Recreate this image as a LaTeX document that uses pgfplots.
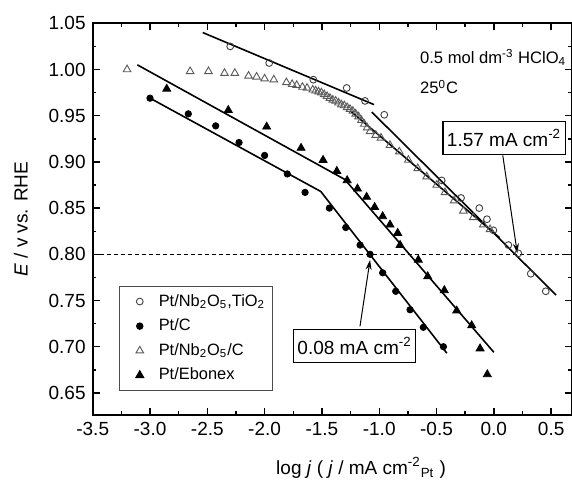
\documentclass[border=0pt]{standalone}
\usepackage{fontspec}
\setmainfont{Liberation Sans}
\usepackage{pgfplots}
\pgfplotsset{compat=1.18}
\usetikzlibrary{arrows.meta}

\begin{document}
\begin{tikzpicture}[font=\fontsize{9.5}{11}\selectfont]
\begin{axis}[
    scale only axis,
    width=239.65pt, height=195.85pt,
    xmin=-3.5, xmax=0.682,
    ymin=0.6261, ymax=1.05,
    xtick={-3.5,-3.0,-2.5,-2.0,-1.5,-1.0,-0.5,0.0,0.5},
    ytick={0.65,0.70,0.75,0.80,0.85,0.90,0.95,1.00,1.05},
    minor x tick num=1, minor y tick num=1,
    tick align=inside,
    major tick length=3.5pt, minor tick length=1.8pt,
    axis line style={line width=0.9pt},
    every tick/.style={black, line width=0.7pt},
    xticklabel style={/pgf/number format/.cd, fixed, fixed zerofill, precision=1, assume math mode=true},
    yticklabel style={/pgf/number format/.cd, fixed, fixed zerofill, precision=2, assume math mode=true},
    xlabel={log \textit{j} ( \textit{j} / mA cm\textsuperscript{-2}\textsubscript{Pt} )},
    ylabel={\textit{E} / v vs. RHE},
    xlabel style={at={(axis description cs:0.56,-0.135)}, anchor=center},
    ylabel style={at={(axis description cs:-0.15,0.5)}, anchor=center},
    legend style={
        at={(axis cs:-3.268,0.766)}, anchor=north west,
        draw=black!70, line width=0.5pt, fill=white,
        font=\fontsize{8.2}{10}\selectfont,
        inner xsep=1.5pt, inner ysep=1.5pt, row sep=0pt,
        nodes={text height=7pt, text depth=2.5pt, inner ysep=1.4pt},
        cells={anchor=west},
    },
    legend image code/.code={
        \path[draw=none, fill=none] (0pt,0pt) -- (16pt,0pt);
        \path[#1, draw=none, fill=none] plot[only marks] coordinates {(8.5pt,0pt)};
    },
]
% Pt/Nb2O5,TiO2
\addplot[only marks, mark=o, mark size=1.7pt, black!75, mark options={line width=0.45pt, draw=black!75}] coordinates {
    (-2.30,1.025)(-1.96,1.007)(-1.575,0.989)(-1.284,0.980)(-1.124,0.966)(-0.956,0.951)
    (-0.455,0.880)(-0.286,0.861)(-0.127,0.850)(-0.06,0.838)(-0.004,0.826)
    (0.127,0.810)(0.214,0.801)(0.322,0.779)(0.453,0.760)
};
% Pt/C
\addplot[only marks, mark=*, mark size=1.6pt, black, mark options={draw=black, fill=black}] coordinates {
    (-3.00,0.969)(-2.666,0.952)(-2.427,0.939)(-2.223,0.921)(-2.00,0.907)(-1.802,0.887)
    (-1.647,0.867)(-1.435,0.850)(-1.292,0.829)(-1.167,0.810)(-1.080,0.800)(-0.97,0.780)
    (-0.856,0.760)(-0.731,0.740)(-0.615,0.721)(-0.44,0.700)
};
% Pt/Nb2O5/C
\addplot[only marks, mark=triangle, mark size=2.2pt, black!65, mark options={line width=0.45pt, draw=black!65}] coordinates {
    (-3.20,1.000)(-2.65,0.998)(-2.49,0.998)(-2.35,0.996)(-2.26,0.996)(-2.14,0.993)
    (-2.07,0.992)(-2.00,0.990)(-1.92,0.989)(-1.81,0.986)(-1.76,0.984)(-1.72,0.983)
    (-1.67,0.981)(-1.63,0.980)(-1.58,0.978)(-1.555,0.977)(-1.53,0.976)(-1.505,0.975)
    (-1.48,0.973)(-1.455,0.971)(-1.43,0.969)(-1.405,0.967)(-1.38,0.966)(-1.355,0.964)
    (-1.33,0.962)(-1.305,0.961)(-1.28,0.959)(-1.255,0.957)(-1.23,0.955)(-1.205,0.952)
    (-1.18,0.949)(-1.155,0.945)(-1.13,0.941)(-1.105,0.937)(-1.08,0.933)(-1.03,0.929)
    (-0.985,0.926)(-0.906,0.918)(-0.825,0.911)(-0.746,0.902)(-0.664,0.893)(-0.586,0.884)
    (-0.498,0.875)(-0.426,0.867)(-0.347,0.858)(-0.266,0.847)(-0.179,0.840)(-0.092,0.832)
    (-0.033,0.827)
};
% Pt/Ebonex
\addplot[only marks, mark=triangle*, mark size=2.3pt, black, mark options={draw=black, fill=black}] coordinates {
    (-2.854,0.979)(-2.317,0.956)(-1.982,0.938)(-1.682,0.915)(-1.49,0.902)(-1.37,0.890)
    (-1.28,0.880)(-1.19,0.871)(-1.11,0.862)(-1.04,0.851)(-0.97,0.841)(-0.906,0.832)
    (-0.839,0.823)(-0.818,0.810)(-0.659,0.794)(-0.577,0.776)(-0.432,0.761)(-0.324,0.739)
    (-0.193,0.723)(-0.12,0.698)(-0.057,0.670)
};
\legend{{Pt/Nb\textsubscript{2}O\textsubscript{5},TiO\textsubscript{2}}, Pt/C, Pt/Nb\textsubscript{2}O\textsubscript{5}/C, Pt/Ebonex}

% fitted Tafel lines
\addplot[black, line width=0.8pt, forget plot] coordinates {(-2.54,1.040)(-1.045,0.962)};
\addplot[black, line width=0.8pt, forget plot] coordinates {(-1.065,0.954)(0.543,0.756)};
\addplot[black, line width=0.8pt, forget plot] coordinates {(-1.25,0.955)(0.05,0.818)};
\addplot[black, line width=0.8pt, forget plot] coordinates {(-3.0,0.969)(-1.51,0.868)(-0.41,0.693)};
\addplot[black, line width=0.8pt, forget plot] coordinates {(-3.11,1.005)(-1.30,0.881)(0.0,0.694)};
\addplot[black, line width=0.6pt, dash pattern=on 2pt off 1.5pt, forget plot] coordinates {(-3.5,0.8)(0.682,0.8)};

\node[anchor=west, font=\fontsize{8.3}{10}\selectfont] at (axis cs:-0.705,1.0126) {0.5 mol dm\textsuperscript{-3} HClO\textsubscript{4}};
\node[anchor=west, font=\fontsize{8.3}{10}\selectfont] at (axis cs:-0.705,0.981) {25\textsuperscript{0}C};

\node[draw, fill=white, line width=0.6pt, inner xsep=2pt, minimum height=16.5pt] at (axis cs:0.089,0.926) {1.57 mA cm\textsuperscript{-2}};
\node[draw, fill=white, line width=0.6pt, inner xsep=2pt, minimum height=16.5pt] at (axis cs:-1.215,0.701) {0.08 mA cm\textsuperscript{-2}};
\draw[-{Stealth[length=5pt,width=3pt]}, line width=0.5pt] (axis cs:0.078,0.907) -- (axis cs:0.205,0.801);
\draw[-{Stealth[length=5pt,width=3pt]}, line width=0.5pt] (axis cs:-1.168,0.722) -- (axis cs:-1.080,0.794);
\end{axis}
\pgfresetboundingbox
\path[use as bounding box] ([xshift=-46.35pt,yshift=11.65pt]current axis.north west) rectangle ([yshift=-34.5pt]current axis.south east);
\end{tikzpicture}
\end{document}
